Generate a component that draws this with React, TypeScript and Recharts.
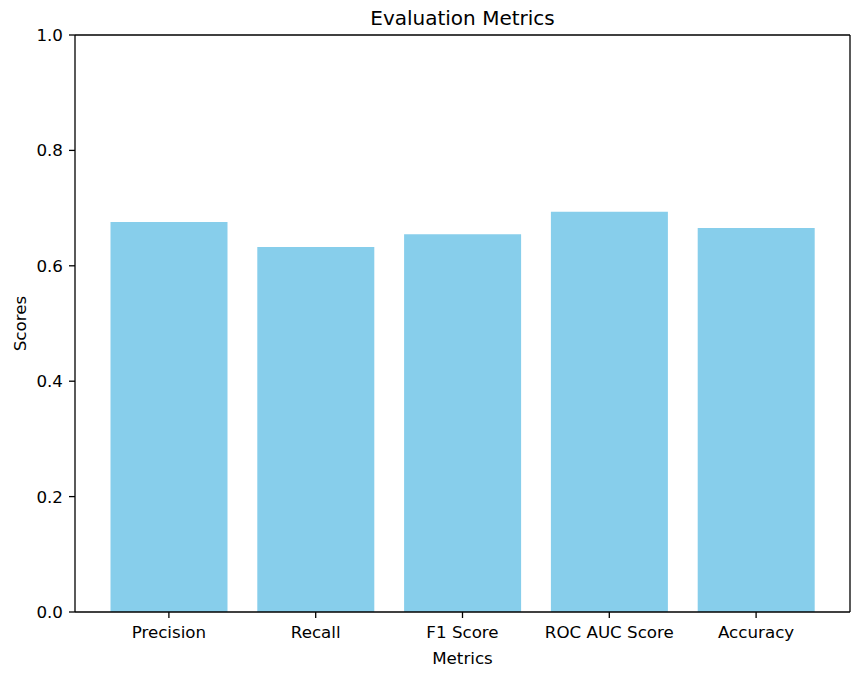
import React from "react";
import { BarChart, Bar, XAxis, YAxis } from "recharts";

const categories = ["Precision", "Recall", "F1 Score", "ROC AUC Score", "Accuracy"];
const scores = [0.676, 0.6326, 0.6546, 0.6938, 0.6655];
const yTicks = [0, 0.2, 0.4, 0.6, 0.8, 1.0];

const data = categories.map((name, i) => ({ name, score: scores[i] }));

const FONT = "'DejaVu Sans', sans-serif";
const W = 867;
const H = 675;

export default function App() {
  return (
    <div style={{ position: "absolute", left: 0, top: 0, width: W, height: H, background: "#fff" }}>
      <BarChart
        width={W}
        height={H}
        data={data}
        margin={{ top: 34, right: 16, bottom: 0, left: 0 }}
        barSize={117}
      >
        <XAxis
          dataKey="name"
          height={63}
          padding={{ left: 20.5, right: 20.5 }}
          axisLine={{ stroke: "#000", strokeWidth: 1.3 }}
          tickLine={{ stroke: "#000", strokeWidth: 1.3 }}
          tickSize={6}
          tickMargin={8}
          tick={{ fill: "#000", fontSize: 16.7, fontFamily: FONT }}
          interval={0}
        />
        <XAxis
          xAxisId="top"
          dataKey="name"
          orientation="top"
          height={1}
          padding={{ left: 20.5, right: 20.5 }}
          axisLine={{ stroke: "#000", strokeWidth: 1.3 }}
          tick={false}
          tickLine={false}
        />
        <YAxis
          width={75}
          domain={[0, 1]}
          ticks={yTicks}
          tickFormatter={(v: number) => v.toFixed(1)}
          axisLine={{ stroke: "#000", strokeWidth: 1.3 }}
          tickLine={{ stroke: "#000", strokeWidth: 1.3 }}
          tickSize={6}
          tickMargin={6}
          tick={{ fill: "#000", fontSize: 16.7, fontFamily: FONT }}
        />
        <YAxis
          yAxisId="right"
          orientation="right"
          width={1}
          domain={[0, 1]}
          axisLine={{ stroke: "#000", strokeWidth: 1.3 }}
          tick={false}
          tickLine={false}
        />
        <Bar dataKey="score" fill="#87CEEB" isAnimationActive={false} />
        <Bar
          dataKey="score"
          xAxisId="top"
          yAxisId="right"
          fill="none"
          stroke="none"
          isAnimationActive={false}
        />
      </BarChart>
      <svg
        width={W}
        height={H}
        style={{ position: "absolute", left: 0, top: 0, pointerEvents: "none" }}
      >
        <text x={462.5} y={25} textAnchor="middle" fontSize={20} fontFamily={FONT} fill="#000">
          Evaluation Metrics
        </text>
        <text x={462.5} y={663.5} textAnchor="middle" fontSize={16.7} fontFamily={FONT} fill="#000">
          Metrics
        </text>
        <text
          x={25.5}
          y={323.5}
          textAnchor="middle"
          fontSize={16.7}
          fontFamily={FONT}
          fill="#000"
          transform="rotate(-90, 25.5, 323.5)"
        >
          Scores
        </text>
      </svg>
    </div>
  );
}
